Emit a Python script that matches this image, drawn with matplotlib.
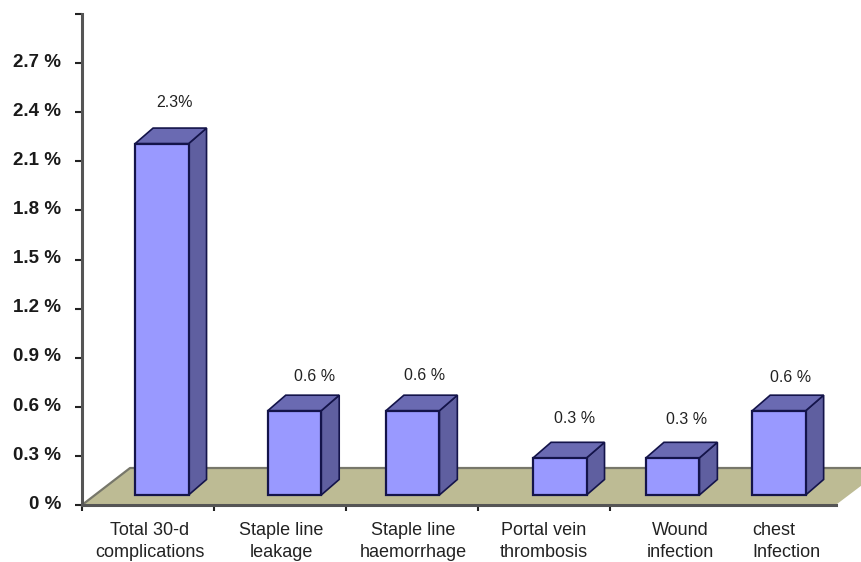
import numpy as np
import matplotlib
matplotlib.use("Agg")
import matplotlib.pyplot as plt
from matplotlib.patches import Polygon
from matplotlib.transforms import ScaledTranslation

plt.rcParams['font.family'] = ['Liberation Sans', 'DejaVu Sans']

# complication rates in percent
categories = ["Total 30-d\ncomplications", "Staple line\nleakage", "Staple line\nhaemorrhage",
              "Portal vein\nthrombosis", "Wound\ninfection", "chest\nInfection"]
values = [2.3, 0.6, 0.6, 0.3, 0.3, 0.6]
value_labels = ["2.3%", "0.6 %", "0.6 %", "0.3 %", "0.3 %", "0.6 %"]
y_ticks = [0, 0.3, 0.6, 0.9, 1.2, 1.5, 1.8, 2.1, 2.4, 2.7, 3.0]
y_tick_labels = ["0 %", "0.3 %", "0.6 %", "0.9 %", "1.2 %", "1.5 %", "1.8 %", "2.1 %", "2.4 %", "2.7 %", ""]

# where the bars and labels sit along the category axis
bar_x = [0.605, 1.61, 2.505, 3.62, 4.475, 5.28]
label_x = [0.515, 1.51, 2.51, 3.50, 4.53, 5.08]
value_nudge_x = [-1, 4, -2, 0, 0, -2]
value_nudge_y = [13, 8, 9, 12, 11, 7]

fig = plt.figure(figsize=(8.61, 5.62), dpi=100)
ax = fig.add_axes([82 / 861, 1 - 505 / 562, 779 / 861, 491 / 562])
ax.set_xlim(0, 779 / 132)
ax.set_ylim(0, 3.0)

# depth of the fake 3d look, in data units
bar_w = 0.405
dx = 0.136
dy = 0.095
floor_y = 0.061
shrink = 0.96

# floor plane
floor = Polygon([(0, 0), (5.71, 0), (6.08, 0.226), (6.5, 0.226), (0.364, 0.226)],
                closed=True, facecolor="#bdbb94", edgecolor="none", zorder=1)
ax.add_patch(floor)
ax.plot([0, 0.364, 5.9], [0, 0.226, 0.226], color="#77776a", lw=1.6, zorder=1.5, clip_on=True)

front_c = "#9999ff"
side_c = "#5f5fa0"
lid_c = "#6a6ab2"
edge_c = "#14144a"

for x, v, txt, nx, ny in zip(bar_x, values, value_labels, value_nudge_x, value_nudge_y):
    left = x - bar_w / 2
    right = x + bar_w / 2
    top = v * shrink

    # side and top first so the front face covers their edges
    side = [(right, floor_y), (right + dx, floor_y + dy), (right + dx, top + dy), (right, top)]
    lid = [(left, top), (left + dx, top + dy), (right + dx, top + dy), (right, top)]
    front = [(left, floor_y), (right, floor_y), (right, top), (left, top)]
    ax.add_patch(Polygon(side, closed=True, facecolor=side_c, edgecolor=edge_c, lw=1.2, zorder=3))
    ax.add_patch(Polygon(lid, closed=True, facecolor=lid_c, edgecolor=edge_c, lw=1.2, zorder=3))
    ax.add_patch(Polygon(front, closed=True, facecolor=front_c, edgecolor=edge_c, lw=1.6, zorder=4))

    ax.annotate(txt, xy=(x + dx / 2 + 0.04, top + dy), xytext=(nx, ny),
                textcoords="offset points", ha="center", va="bottom",
                fontsize=11.5, color="#222222")

# axes
for s in ["top", "right"]:
    ax.spines[s].set_visible(False)
ax.spines["left"].set_color("#555555")
ax.spines["left"].set_linewidth(2.2)
ax.spines["bottom"].set_color("#555555")
ax.spines["bottom"].set_linewidth(2.2)
ax.spines["bottom"].set_bounds(0, 5.71)

ax.set_yticks(y_ticks)
ax.set_yticklabels(y_tick_labels, fontsize=13.5, fontweight="bold", color="#1a1a1a")
ax.tick_params(axis="y", length=5, width=1.5, color="#222222", pad=10)
# tick labels sit a little above their ticks
shift = ScaledTranslation(0, 2 / 72, fig.dpi_scale_trans)
for lab in ax.get_yticklabels():
    lab.set_transform(lab.get_transform() + shift)
ax.set_xticks(np.arange(5))
ax.set_xticklabels([])
ax.tick_params(axis="x", length=4, width=1.5, color="#222222", direction="out")

for i, (x, name) in enumerate(zip(label_x, categories)):
    ha = "left" if i == 5 else "center"
    ax.text(x, -0.105, name, ha=ha, va="top", fontsize=13, color="#222222",
            linespacing=1.4, clip_on=False)

fig.savefig("out.png", dpi=100)
